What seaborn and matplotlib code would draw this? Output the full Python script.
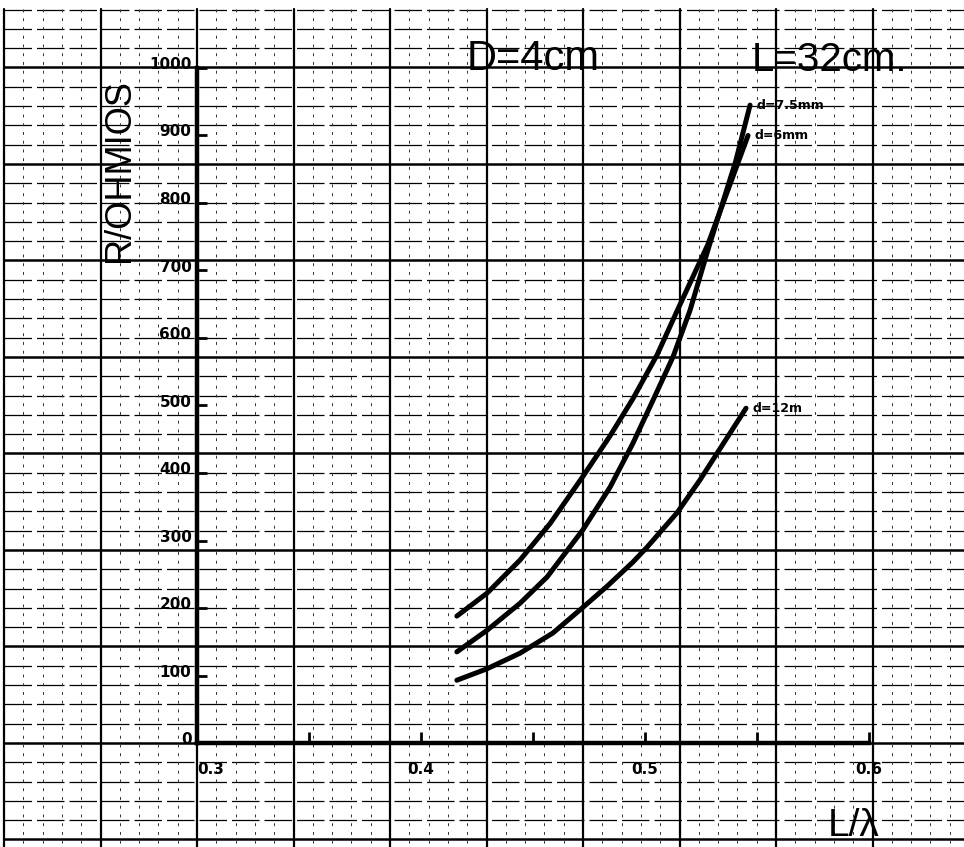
import numpy as np
import pandas as pd
import matplotlib
matplotlib.use("Agg")
import matplotlib.pyplot as plt
import matplotlib.transforms as mtransforms
import seaborn as sns

# curves (L/lambda vs R in ohms)
d6_x = [0.416, 0.4295, 0.4442, 0.4576, 0.4723, 0.4844, 0.4946, 0.5054, 0.5143, 0.528, 0.541, 0.546]
d6_y = [188, 222, 271, 325, 395, 455, 510, 575, 640, 738, 855, 900]

d75_x = [0.416, 0.4295, 0.4442, 0.4563, 0.4723, 0.4844, 0.4946, 0.5036, 0.5125, 0.5201, 0.5285, 0.5405, 0.5469]
d75_y = [135, 167, 207, 246, 316, 379, 444, 508, 572, 641, 735, 862, 945]

d12_x = [0.416, 0.4295, 0.4442, 0.4589, 0.4723, 0.483, 0.4946, 0.5009, 0.5143, 0.5246, 0.5451]
d12_y = [93, 110, 133, 163, 201, 232, 268, 290, 341, 390, 496]

curve_names = ["d=7.5mm", "d=6mm", "d=12m"]

y_ticks = [0, 100, 200, 300, 400, 500, 600, 700, 800, 900, 1000]
x_ticks = [0.3, 0.35, 0.4, 0.45, 0.5, 0.55, 0.6]
x_labels = ["0.3", "", "0.4", "", "0.5", "", "0.6"]

df = pd.concat([
    pd.DataFrame({"x": d75_x, "y": d75_y, "curve": curve_names[0]}),
    pd.DataFrame({"x": d6_x, "y": d6_y, "curve": curve_names[1]}),
    pd.DataFrame({"x": d12_x, "y": d12_y, "curve": curve_names[2]}),
])

sns.set_style("white")
plt.rcParams["font.family"] = ["DejaVu Sans"]
plt.rcParams["text.color"] = "black"
plt.rcParams["xtick.color"] = "black"
plt.rcParams["ytick.color"] = "black"

W, H = 964, 847
fig = plt.figure(figsize=(W / 100, H / 100), dpi=100)

# graph paper background, in pixel units
bg = fig.add_axes([0, 0, 1, 1])
bg.set_xlim(0, W)
bg.set_ylim(H, 0)
bg.axis("off")
step = 19.3
for k in range(-5, 39):
    y = 743 - k * step
    if k % 5 == 0:
        bg.plot([4, W], [y, y], color="black", lw=1.8)
    else:
        bg.plot([4, W], [y, y], color="black", lw=0.9, ls=(0, (22, 4)))
for k in range(-10, 40):
    x = 197 + k * step
    if k % 5 == 0:
        bg.plot([x, x], [9, H], color="black", lw=1.6)
    else:
        bg.plot([x, x], [9, H], color="#333333", lw=0.7, ls=(0, (3, 6)))

# data axes
ax = fig.add_axes([197 / W, (H - 743) / H, 672 / W, 675 / H])
ax.patch.set_alpha(0)
sns.lineplot(data=df, x="x", y="y", hue="curve", palette=["black"] * 3,
             sort=False, estimator=None, lw=3.6, legend=False, ax=ax,
             solid_capstyle="round", solid_joinstyle="round")
ax.set_xlim(0.3, 0.6)
ax.set_ylim(0, 1000)
for s in ["top", "right"]:
    ax.spines[s].set_visible(False)
for s in ["left", "bottom"]:
    ax.spines[s].set_linewidth(3.2)
    ax.spines[s].set_color("black")

ax.set_yticks(y_ticks)
ax.set_yticklabels([str(v) for v in y_ticks], fontweight="bold")
ax.set_xticks(x_ticks)
ax.set_xticklabels(x_labels, fontweight="bold")
ax.tick_params(axis="y", left=True, direction="in", length=7, width=2, pad=4, labelsize=11)
ax.tick_params(axis="x", bottom=True, direction="in", length=8, width=2, pad=14, labelsize=11)
ax.get_xticklabels()[0].set_horizontalalignment("left")
up = mtransforms.ScaledTranslation(0, 5 / 100, fig.dpi_scale_trans)
for lab in ax.get_yticklabels():
    lab.set_transform(lab.get_transform() + up)
ax.set_xlabel("")
ax.set_ylabel("")

# curve labels at the curve ends
ends = [(d75_x[-1], d75_y[-1]), (d6_x[-1], d6_y[-1]), (d12_x[-1], d12_y[-1])]
for name, (ex, ey) in zip(curve_names, ends):
    ax.text(ex + 0.003, ey, name, fontsize=9, fontweight="bold", va="center", ha="left")

big = ["Liberation Sans", "DejaVu Sans"]
bg.text(467, 70, "D=4cm", fontsize=30, family=big, va="baseline", ha="left")
bg.text(752, 71, "L=32cm.", fontsize=29, family=big, va="baseline", ha="left")
bg.text(119, 171, "R/OHMIOS", fontsize=26, family=big, rotation=90, va="center", ha="center")
bg.text(828, 836, "L/\u03bb", fontsize=28, family=big, va="baseline", ha="left")

fig.savefig("out.png", dpi=100)
